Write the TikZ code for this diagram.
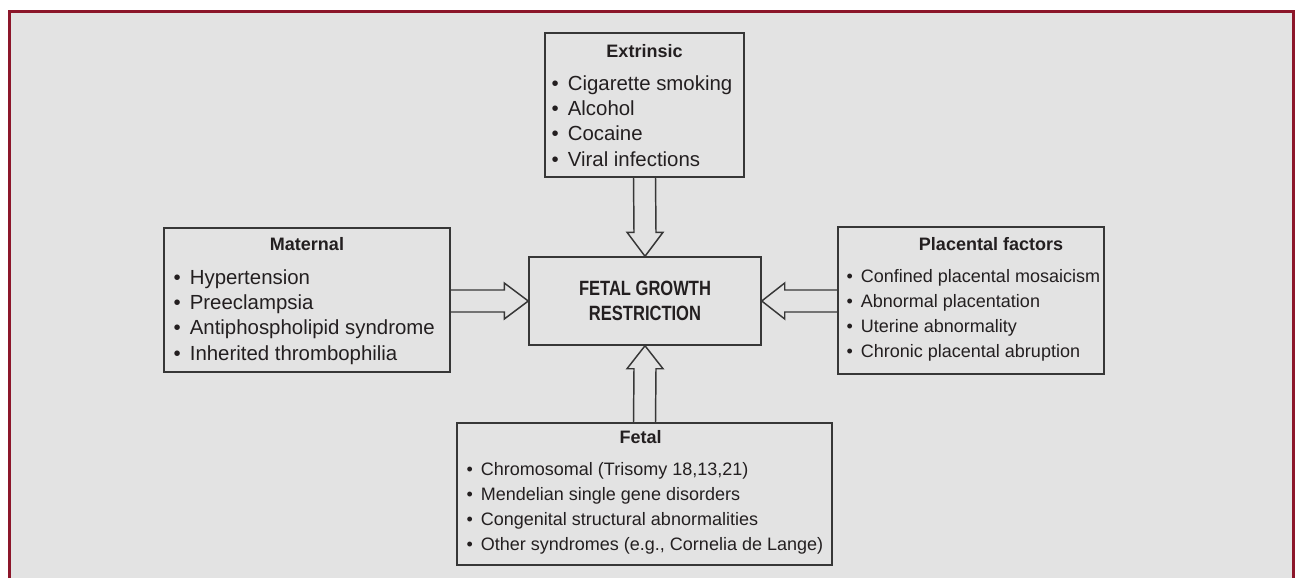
\documentclass[tikz,border=0pt]{standalone}
\usepackage{fontspec}
\setmainfont{Liberation Sans}
\newfontfamily\narrowfont[FakeStretch=0.8]{Liberation Sans}
\usetikzlibrary{calc}
\definecolor{frameRed}{RGB}{140, 22, 42}
\definecolor{panelGray}{RGB}{227, 227, 227}
\definecolor{boxLine}{RGB}{55, 55, 55}
\definecolor{textDark}{RGB}{35, 31, 32}
\newlength{\pxu}
\setlength{\pxu}{0.75pt}
\newcommand{\fitem}{\textbullet\hspace{0.45em}}

\begin{document}
\begin{tikzpicture}[x=0.75pt, y=-0.75pt,
    factorbox/.style={draw=boxLine, line width=1.1pt, inner sep=0pt},
    boxtitle/.style={font=\bfseries\fontsize{13.5}{16}\selectfont, text=textDark, inner sep=0pt},
    itemlist/.style={font=\fontsize{13.5}{18.75}\selectfont, text=textDark, align=left, inner sep=0pt, anchor=north west},
    largelist/.style={itemlist, font=\fontsize{15.3}{19}\selectfont},
    blockarrow/.style={draw=boxLine, line width=1.1pt, line join=miter}]
                \useasboundingbox (0,0) rectangle (1295,578);
                \fill[panelGray] (10,11) rectangle (1295,578);
                \draw[frameRed, line width=2.25pt] (9.5,578) -- (9.5,11) -- (1293.5,11) -- (1293.5,578);
                % factor boxes
                \node[factorbox, minimum width=199\pxu, minimum height=144\pxu] (extrinsic) at (644.5,105) {};
                \node[factorbox, minimum width=286\pxu, minimum height=144\pxu] (maternal) at (307,300) {};
                \node[factorbox, minimum width=266\pxu, minimum height=147\pxu] (placental) at (971,300.5) {};
                \node[factorbox, minimum width=375\pxu, minimum height=142\pxu] (fetal) at (644.5,494) {};
                \node[factorbox, minimum width=232\pxu, minimum height=88\pxu, font=\narrowfont\bfseries\fontsize{15.5}{18.75}\selectfont, text=textDark, align=center] (growth) at (645,301) {FETAL GROWTH\\RESTRICTION};
                % titles
                \node[boxtitle] (extrinsic-title) at ($(extrinsic.north)+(0,19)$) {Extrinsic};
                \node[boxtitle] (maternal-title) at ($(maternal.north)+(0,17)$) {Maternal};
                \node[boxtitle] (placental-title) at ($(placental.north)+(20,18)$) {Placental factors};
                \node[boxtitle] (fetal-title) at ($(fetal.north)+(-4,15)$) {Fetal};
                % lists
                \node[largelist] (extrinsic-list) at ($(extrinsic.north west)+(7,43)$) {\fitem Cigarette smoking\\ \fitem Alcohol\\ \fitem Cocaine\\ \fitem Viral infections};
                \node[largelist] (maternal-list) at ($(maternal.north west)+(10,42)$) {\fitem Hypertension\\ \fitem Preeclampsia\\ \fitem Antiphospholipid syndrome\\ \fitem Inherited thrombophilia};
                \node[itemlist] (placental-list) at ($(placental.north west)+(9,43)$) {\fitem Confined placental mosaicism\\ \fitem Abnormal placentation\\ \fitem Uterine abnormality\\ \fitem Chronic placental abruption};
                \node[itemlist] (fetal-list) at ($(fetal.north west)+(10,40)$) {\fitem Chromosomal (Trisomy 18,13,21)\\ \fitem Mendelian single gene disorders\\ \fitem Congenital structural abnormalities\\ \fitem Other syndromes (e.g., Cornelia de Lange)};
                % block arrows
                \draw[blockarrow] ($(extrinsic.south)+(-11,0)$) -- ($(growth.north)+(-11,-24)$) -- ($(growth.north)+(-18,-24)$) -- (growth.north) -- ($(growth.north)+(18,-24)$) -- ($(growth.north)+(11,-24)$) -- ($(extrinsic.south)+(11,0)$);
                \draw[blockarrow] ($(fetal.north)+(-11,0)$) -- ($(growth.south)+(-11,23)$) -- ($(growth.south)+(-18,23)$) -- (growth.south) -- ($(growth.south)+(18,23)$) -- ($(growth.south)+(11,23)$) -- ($(fetal.north)+(11,0)$);
                \draw[blockarrow] ($(maternal.east |- growth.west)+(0,-11)$) -- ($(growth.west)+(-24,-11)$) -- ($(growth.west)+(-24,-18)$) -- (growth.west) -- ($(growth.west)+(-24,18)$) -- ($(growth.west)+(-24,11)$) -- ($(maternal.east |- growth.west)+(0,11)$);
                \draw[blockarrow] ($(placental.west |- growth.east)+(0,-11)$) -- ($(growth.east)+(23,-11)$) -- ($(growth.east)+(23,-18)$) -- (growth.east) -- ($(growth.east)+(23,18)$) -- ($(growth.east)+(23,11)$) -- ($(placental.west |- growth.east)+(0,11)$);
            \end{tikzpicture}
\end{document}
